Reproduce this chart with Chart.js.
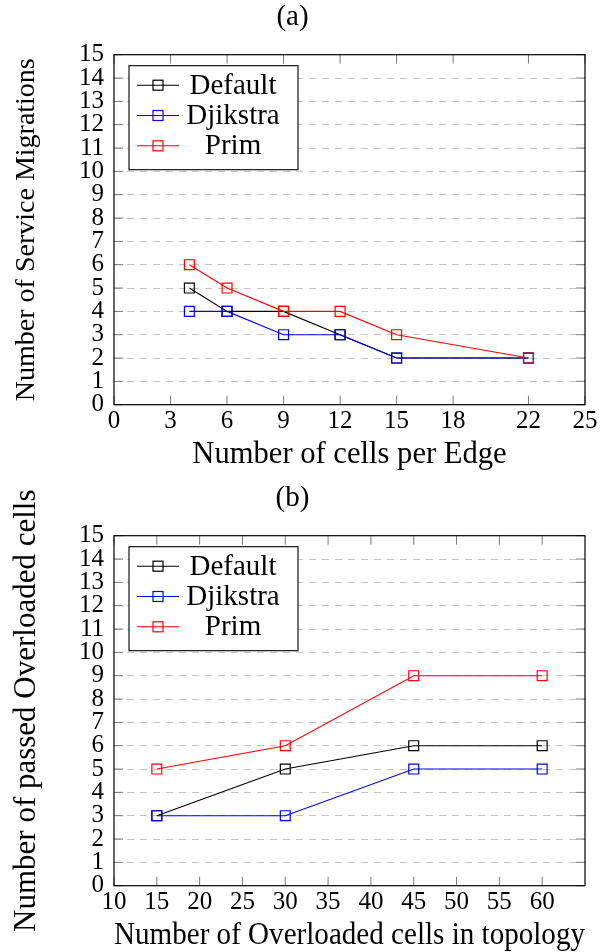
<!DOCTYPE html>
<html>
<head>
<meta charset="utf-8">
<script src="https://cdn.jsdelivr.net/npm/chart.js@4.4.1/dist/chart.umd.min.js"></script>
<style>
  html, body { margin: 0; padding: 0; background: #fff; overflow: hidden; width: 600px; height: 952px; }
  canvas { position: absolute; left: 0; display: block; }
</style>
</head>
<body>
<canvas id="chartA" width="600" height="481" style="top:0px"></canvas>
<canvas id="chartB" width="600" height="471" style="top:481px"></canvas>
<script>
// ---- data (a) ----
const cellsPerEdge = [4, 6, 9, 12, 15, 22];
const migDefault  = [5, 4, 4, 3, 2, 2];
const migDjikstra = [4, 4, 3, 3, 2, 2];
const migPrim     = [6, 5, 4, 4, 3, 2];
const xTicksA = [0, 3, 6, 9, 12, 15, 18, 22, 25];

// ---- data (b) ----
const overloadedCells = [15, 30, 45, 60];
const passDefault  = [3, 5, 6, 6];
const passDjikstra = [3, 3, 5, 5];
const passPrim     = [5, 6, 9, 9];
const xTicksB = [10, 15, 20, 25, 30, 35, 40, 45, 50, 55, 60];

const yTicks = [0, 1, 2, 3, 4, 5, 6, 7, 8, 9, 10, 11, 12, 13, 14, 15];
const seriesNames = ['Default', 'Djikstra', 'Prim'];
const seriesColors = ['#000000', '#0000ff', '#ff0000'];

const FONT = "'Liberation Serif', 'Times New Roman', serif";
const PLOT_LEFT = 114, PLOT_TOP = 54.7, PLOT_BOTTOM = 404.7, PLOT_RIGHT = 585;
const TICK_LEN = 9;

const frameLegendPlugin = {
  id: 'frameLegend',
  afterDatasetsDraw(chart) {
    const { ctx, chartArea: a, scales } = chart;
    const x = scales.x, y = scales.y;
    ctx.save();
    // inward tick marks on all four sides
    ctx.strokeStyle = '#7a7a7a';
    ctx.lineWidth = 1;
    ctx.beginPath();
    x.ticks.forEach(t => {
      const px = x.getPixelForValue(t.value);
      ctx.moveTo(px, a.bottom); ctx.lineTo(px, a.bottom - TICK_LEN);
      ctx.moveTo(px, a.top); ctx.lineTo(px, a.top + TICK_LEN);
    });
    y.ticks.forEach(t => {
      const py = y.getPixelForValue(t.value);
      ctx.moveTo(a.left, py); ctx.lineTo(a.left + TICK_LEN, py);
      ctx.moveTo(a.right, py); ctx.lineTo(a.right - TICK_LEN, py);
    });
    ctx.stroke();
    // frame
    ctx.strokeStyle = '#000';
    ctx.lineWidth = 1.2;
    ctx.strokeRect(a.left, a.top, a.right - a.left, a.bottom - a.top);

    // legend box
    const bx = a.left + 15, by = a.top + 11, bw = 169, bh = 104;
    ctx.fillStyle = '#fff';
    ctx.fillRect(bx, by, bw, bh);
    ctx.strokeStyle = '#000';
    ctx.lineWidth = 1.1;
    ctx.strokeRect(bx, by, bw, bh);
    ctx.font = '29px ' + FONT;
    ctx.textAlign = 'center';
    ctx.textBaseline = 'middle';
    chart.data.datasets.forEach((ds, i) => {
      const ry = by + 19.5 + i * 30.3;
      ctx.strokeStyle = ds.borderColor;
      ctx.lineWidth = 1.1;
      ctx.beginPath();
      ctx.moveTo(bx + 8, ry); ctx.lineTo(bx + 50, ry);
      ctx.stroke();
      ctx.lineWidth = 1.2;
      ctx.strokeRect(bx + 29 - 5, ry - 5, 10, 10);
      ctx.fillStyle = '#000';
      ctx.fillText(ds.label, bx + 104, ry + 1);
    });
    ctx.restore();
  }
};

function makeChart(id, title, xTitle, yTitle, yTitleSize, xs, ys, xMin, xMax, xTicks, canvasH) {
  const datasets = ys.map((vals, i) => ({
    label: seriesNames[i],
    data: xs.map((xv, j) => ({ x: xv, y: vals[j] })),
    borderColor: seriesColors[i],
    backgroundColor: 'rgba(0,0,0,0)',
    borderWidth: 1.1,
    pointStyle: 'rect',
    pointRadius: 7,
    pointHoverRadius: 7,
    pointBorderWidth: 1.2,
    pointBorderColor: seriesColors[i],
    pointBackgroundColor: 'rgba(0,0,0,0)',
    tension: 0,
    order: 2 - i
  }));
  const xTitleSize = 30.6;
  return new Chart(document.getElementById(id), {
    type: 'line',
    data: { datasets },
    plugins: [frameLegendPlugin],
    options: {
      responsive: false,
      animation: false,
      devicePixelRatio: 1,
      layout: { padding: { left: 0, right: 600 - PLOT_RIGHT, top: 0, bottom: 0 } },
      plugins: {
        legend: { display: false },
        tooltip: { enabled: false },
        title: {
          display: true,
          text: title,
          color: '#000',
          font: { family: FONT, size: 29, weight: 'normal', lineHeight: 1.0 },
          padding: { top: 3, bottom: PLOT_TOP - 29 - 3 }
        }
      },
      scales: {
        x: {
          type: 'linear',
          min: xMin, max: xMax,
          afterBuildTicks: s => { s.ticks = xTicks.map(v => ({ value: v })); },
          afterFit: s => { s.height = canvasH - PLOT_BOTTOM; },
          grid: { display: false, drawTicks: false, tickLength: 0 },
          border: { display: false },
          ticks: {
            autoSkip: false, maxRotation: 0, minRotation: 0, padding: 2,
            color: '#000',
            font: { family: FONT, size: 25, lineHeight: 1.2 }
          },
          title: {
            display: true, text: xTitle, color: '#000',
            font: { family: FONT, size: xTitleSize, lineHeight: 1.0 },
            padding: { top: 0, bottom: canvasH - 455 - xTitleSize / 2 }
          }
        },
        y: {
          type: 'linear',
          min: 0, max: 15,
          afterBuildTicks: s => { s.ticks = yTicks.map(v => ({ value: v })); },
          afterFit: s => { s.width = PLOT_LEFT; },
          grid: {
            display: true, drawTicks: false, tickLength: 0, lineWidth: 1,
            color: c => (c.tick && (c.tick.value === 0 || c.tick.value === 15)) ? 'rgba(0,0,0,0)' : '#c4c4c4'
          },
          border: { display: false, dash: [7, 6] },
          ticks: {
            autoSkip: false, padding: 10, color: '#000',
            font: { family: FONT, size: 25, lineHeight: 1.2 }
          },
          title: {
            display: true, text: yTitle, color: '#000',
            font: { family: FONT, size: yTitleSize, lineHeight: 1.0 },
            padding: { top: 27 - yTitleSize / 2, bottom: 0 }
          }
        }
      }
    }
  });
}

makeChart('chartA', '(a)', 'Number of cells per Edge', 'Number of Service Migrations', 28,
  cellsPerEdge, [migDefault, migDjikstra, migPrim], 0, 25, xTicksA, 481);
makeChart('chartB', '(b)', 'Number of Overloaded cells in topology', 'Number of passed Overloaded cells', 31,
  overloadedCells, [passDefault, passDjikstra, passPrim], 10, 65, xTicksB, 471);
</script>
</body>
</html>
